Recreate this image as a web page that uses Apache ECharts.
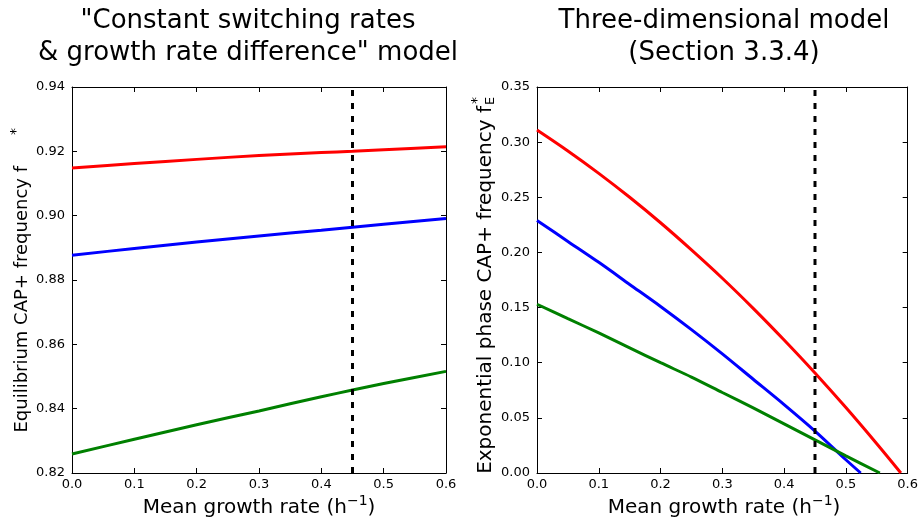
<!DOCTYPE html>
<html>
<head>
<meta charset="utf-8">
<script src="https://cdn.jsdelivr.net/npm/echarts@6/dist/echarts.min.js"></script>
<style>
  html, body { margin: 0; padding: 0; background: #fff; }
  #chart { width: 921px; height: 522px; }
</style>
</head>
<body>
<div id="chart"></div>
<script>
// Left panel: equilibrium CAP+ frequency vs mean growth rate
const leftRates = [0, 0.1, 0.2, 0.3, 0.4, 0.45, 0.5, 0.6];
const leftRed   = [0.9148, 0.9162, 0.9175, 0.9187, 0.9196, 0.9200, 0.9205, 0.9214];
const leftBlue  = [0.8877, 0.8898, 0.8918, 0.8937, 0.8955, 0.8964, 0.8973, 0.8991];
const leftGreen = [0.8259, 0.8305, 0.8350, 0.8393, 0.8437, 0.8458, 0.8478, 0.8516];

// Right panel: exponential phase CAP+ frequency vs mean growth rate
const rightRedRates   = [0, 0.05, 0.1, 0.15, 0.2, 0.25, 0.3, 0.35, 0.4, 0.45, 0.5, 0.55, 0.589];
const rightRed        = [0.311, 0.292, 0.2717, 0.250, 0.2269, 0.2023, 0.1766, 0.1493, 0.1206, 0.0907, 0.0593, 0.0265, 0];
const rightBlueRates  = [0, 0.05, 0.1, 0.15, 0.2, 0.25, 0.3, 0.35, 0.4, 0.45, 0.5, 0.524];
const rightBlue       = [0.229, 0.210, 0.191, 0.171, 0.151, 0.130, 0.108, 0.085, 0.062, 0.038, 0.012, 0];
const rightGreenRates = [0, 0.05, 0.1, 0.15, 0.2, 0.25, 0.3, 0.35, 0.4, 0.45, 0.5, 0.555];
const rightGreen      = [0.153, 0.140, 0.127, 0.1135, 0.100, 0.087, 0.073, 0.059, 0.0445, 0.030, 0.0155, 0];

// Reference growth rate marked by the dashed line
const meanRate = 0.45;

// Axis ranges and tick steps
const xRange = [0, 0.6], xStep = 0.1;
const leftYRange = [0.82, 0.94], leftYStep = 0.02;
const rightYRange = [0, 0.35], rightYStep = 0.05;

const FONT = '"DejaVu Sans", "Liberation Sans", sans-serif';
const zip = (xs, ys) => xs.map((x, i) => [x, ys[i]]);

const chart = echarts.init(document.getElementById('chart'), null, { renderer: 'canvas' });

const frameLine = { show: true, onZero: false, lineStyle: { color: '#000', width: 1 } };
const innerTick = { show: true, inside: true, length: 5, lineStyle: { color: '#000', width: 1 } };

function xAxisFor(grid, labelled) {
  return {
    type: 'value', gridIndex: grid, position: labelled ? 'bottom' : 'top',
    min: xRange[0], max: xRange[1], interval: xStep,
    axisLine: frameLine, axisTick: innerTick, splitLine: { show: false },
    axisLabel: {
      show: labelled, margin: 5, color: '#000', fontSize: 13, fontFamily: FONT,
      showMinLabel: true, showMaxLabel: true,
      formatter: v => v.toFixed(1)
    }
  };
}
function yAxisFor(grid, range, step, labelled) {
  return {
    type: 'value', gridIndex: grid, position: labelled ? 'left' : 'right',
    min: range[0], max: range[1], interval: step,
    axisLine: frameLine, axisTick: innerTick, splitLine: { show: false },
    axisLabel: {
      show: labelled, margin: 7, color: '#000', fontSize: 13, fontFamily: FONT,
      showMinLabel: true, showMaxLabel: true,
      formatter: v => v.toFixed(2)
    }
  };
}
function curve(xi, yi, data, color) {
  return {
    type: 'line', xAxisIndex: xi, yAxisIndex: yi, data, smooth: 0.3,
    showSymbol: false, silent: true, animation: false,
    lineStyle: { color, width: 3 }
  };
}
function dashed(xi, yi, range) {
  return {
    type: 'line', xAxisIndex: xi, yAxisIndex: yi,
    data: [[meanRate, range[0]], [meanRate, range[1]]],
    showSymbol: false, silent: true, animation: false,
    lineStyle: { color: '#000', width: 3, type: [6, 7] }
  };
}

const titleStyle = { fill: '#000', font: '26px ' + FONT, align: 'center', verticalAlign: 'middle' };
const xNameRich = {
  a: { fill: '#000', fontSize: 20, fontFamily: FONT, lineHeight: 24, verticalAlign: 'bottom' },
  s: { fill: '#000', fontSize: 14, fontFamily: FONT, lineHeight: 14, verticalAlign: 'top' }
};

chart.setOption({
  animation: false,
  backgroundColor: '#fff',
  grid: [
    { left: 72, top: 87, width: 374, height: 386 },
    { left: 537, top: 87, width: 373, height: 386 }
  ],
  xAxis: [xAxisFor(0, true), xAxisFor(1, true), xAxisFor(0, false), xAxisFor(1, false)],
  yAxis: [
    yAxisFor(0, leftYRange, leftYStep, true), yAxisFor(1, rightYRange, rightYStep, true),
    yAxisFor(0, leftYRange, leftYStep, false), yAxisFor(1, rightYRange, rightYStep, false)
  ],
  series: [
    curve(0, 0, zip(leftRates, leftRed), '#ff0000'),
    curve(0, 0, zip(leftRates, leftBlue), '#0000ff'),
    curve(0, 0, zip(leftRates, leftGreen), '#008000'),
    dashed(0, 0, leftYRange),
    curve(1, 1, zip(rightRedRates, rightRed), '#ff0000'),
    curve(1, 1, zip(rightBlueRates, rightBlue), '#0000ff'),
    curve(1, 1, zip(rightGreenRates, rightGreen), '#008000'),
    dashed(1, 1, rightYRange)
  ],
  graphic: [
    // panel titles
    { type: 'text', x: 248, y: 21, style: Object.assign({ text: '"Constant switching rates' }, titleStyle) },
    { type: 'text', x: 248, y: 53, style: Object.assign({ text: '& growth rate difference" model' }, titleStyle) },
    { type: 'text', x: 724, y: 21, style: Object.assign({ text: 'Three-dimensional model' }, titleStyle) },
    { type: 'text', x: 724, y: 53, style: Object.assign({ text: '(Section 3.3.4)' }, titleStyle) },
    // x-axis titles
    { type: 'text', x: 259, y: 506, style: { text: '{a|Mean growth rate (h}{s|\u22121}{a|)}', align: 'center', verticalAlign: 'middle', rich: xNameRich } },
    { type: 'text', x: 724, y: 506, style: { text: '{a|Mean growth rate (h}{s|\u22121}{a|)}', align: 'center', verticalAlign: 'middle', rich: xNameRich } },
    // left y-axis title
    {
      type: 'group', x: 22, y: 166, rotation: Math.PI / 2,
      children: [
        { type: 'text', x: 0, y: 0, style: { text: 'Equilibrium CAP+ frequency f', fill: '#000', font: '18px ' + FONT, align: 'right', verticalAlign: 'middle' } },
        { type: 'text', x: 31, y: -6, style: { text: '*', fill: '#000', font: '14px ' + FONT, align: 'left', verticalAlign: 'middle' } }
      ]
    },
    // right y-axis title
    {
      type: 'group', x: 486, y: 106, rotation: Math.PI / 2,
      children: [
        { type: 'text', x: 0, y: 0, style: { text: 'Exponential phase CAP+ frequency f', fill: '#000', font: '20px ' + FONT, align: 'right', verticalAlign: 'middle' } },
        { type: 'text', x: 1, y: 5, style: { text: 'E', fill: '#000', font: '13px ' + FONT, align: 'left', verticalAlign: 'middle' } },
        { type: 'text', x: 2, y: -9, style: { text: '*', fill: '#000', font: '14px ' + FONT, align: 'left', verticalAlign: 'middle' } }
      ]
    }
  ]
});
</script>
</body>
</html>
